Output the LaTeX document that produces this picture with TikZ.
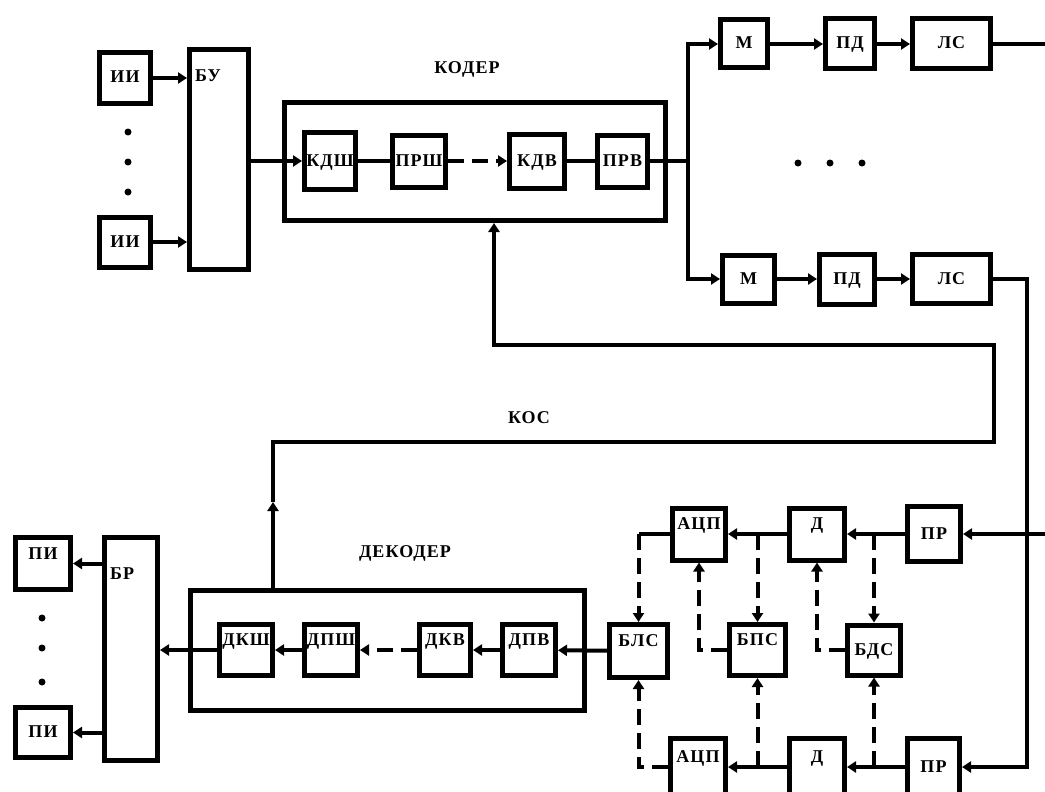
\documentclass[tikz,border=0pt]{standalone}
\usepackage{fontspec}
\setmainfont{Liberation Serif}[LetterSpace=6]
\usepackage{tikz}
\usetikzlibrary{arrows.meta, positioning, calc}
\tikzset{
  blk/.style={rectangle, draw=black, line width=5pt, inner sep=0pt,
    text height=12pt, text depth=2pt, font=\fontsize{18}{18}\selectfont\bfseries},
  hiblk/.style={blk, text depth=21pt},
  frame/.style={rectangle, draw=black, line width=5pt, inner sep=0pt},
  lbl/.style={inner sep=0pt, font=\fontsize{18}{18}\selectfont\bfseries},
  arrow/.style={-{Triangle[length=9pt,width=11pt]}, line width=4pt},
  line/.style={line width=4pt},
  dasharrow/.style={arrow, dash pattern=on 16pt off 8pt},
  dot/.style={circle, fill=black, inner sep=0pt, minimum size=7pt}
}

\begin{document}
\begin{tikzpicture}[x=1pt, y=-1pt]
  \useasboundingbox (0,0) rectangle (1045,792);

  % Sources and control unit
  \node[blk, minimum width=51pt, minimum height=51pt] (ii1) at (125,78) {ИИ};
  \node[blk, minimum width=51pt, minimum height=50pt] (ii2) at (125,242) {ИИ};
  \node[dot] (d11) at (128,132) {};
  \node[dot] (d12) at (128,162) {};
  \node[dot] (d13) at (128,192) {};
  \node[frame, minimum width=59pt, minimum height=220pt] (bu) at (219,159.5) {};
  \node[lbl, anchor=north west] (bulbl) at ([shift={(8,23)}]bu.north west) {БУ};
  \draw[arrow] (ii1) -- (bu.west |- ii1);
  \draw[arrow] (ii2) -- (bu.west |- ii2);

  % Coder
  \node[lbl] (coderlbl) at (467,69) {КОДЕР};
  \node[frame, minimum width=381pt, minimum height=118pt] (coder) at (475,161.5) {};
  \node[blk, minimum width=51pt, minimum height=57pt] (kdsh) at (330,161) {КДШ};
  \node[blk, minimum width=53pt, minimum height=52pt] (prsh) at (419,161) {ПРШ};
  \node[blk, minimum width=55pt, minimum height=54pt] (kdv) at (537,161) {КДВ};
  \node[blk, minimum width=50pt, minimum height=52pt] (prv) at (622.5,161) {ПРВ};
  \draw[arrow] (bu.east |- kdsh) -- (kdsh);
  \draw[line] (kdsh) -- (prsh);
  \draw[dasharrow] (prsh) -- (kdv);
  \draw[line] (kdv) -- (prv);

  % Channels
  \coordinate (sp) at (688,161);
  \node[blk, minimum width=47pt, minimum height=48pt] (m1) at (744,44) {М};
  \node[blk, minimum width=49pt, minimum height=50pt] (pd1) at (850,44) {ПД};
  \node[blk, minimum width=78pt, minimum height=50pt] (ls1) at (951.5,44) {ЛС};
  \node[blk, minimum width=52pt, minimum height=48pt] (m2) at (748.5,279) {М};
  \node[blk, minimum width=55pt, minimum height=50pt] (pd2) at (847,279) {ПД};
  \node[blk, minimum width=78pt, minimum height=49pt] (ls2) at (951.5,279) {ЛС};
  \node[dot] (d21) at (798,163) {};
  \node[dot] (d22) at (830,163) {};
  \node[dot] (d23) at (862,163) {};
  \draw[line] (prv) -- (sp);
  \draw[arrow] (sp) |- (m1);
  \draw[arrow] (sp) |- (m2);
  \draw[arrow] (m1) -- (pd1);
  \draw[arrow] (pd1) -- (ls1);
  \draw[arrow] (m2) -- (pd2);
  \draw[arrow] (pd2) -- (ls2);
  \coordinate (out1) at (1045,44);
  \draw[line] (ls1) -- (out1);

  % Feedback channel
  \coordinate (k1) at (273,502);
  \coordinate (k2) at (273,442);
  \coordinate (k3) at (994,442);
  \coordinate (k4) at (994,345);
  \coordinate (k5) at (494,345);
  \node[lbl] (koslbl) at (529,418) {КОС};

  % Receiver side
  \node[blk, minimum width=53pt, minimum height=55pt] (pr1) at (934,534) {ПР};
  \node[hiblk, minimum width=55pt, minimum height=52pt] (dd1) at (817,534) {Д};
  \node[hiblk, minimum width=53pt, minimum height=52pt] (adc1) at (699,534) {АЦП};
  \node[hiblk, minimum width=58pt, minimum height=53pt] (bls) at (638.5,651) {БЛС};
  \node[hiblk, minimum width=56pt, minimum height=51pt] (bps) at (757.5,650) {БПС};
  \node[blk, minimum width=53pt, minimum height=50pt] (bds) at (874,650) {БДС};
  \node[blk, minimum width=52pt, minimum height=57pt] (pr2) at (933.5,767) {ПР};
  \node[hiblk, minimum width=55pt, minimum height=57pt] (dd2) at (817,767) {Д};
  \node[hiblk, minimum width=55pt, minimum height=57pt] (adc2) at (698,767) {АЦП};
  \coordinate (in1) at (1045,534);
  \coordinate (rc) at (1027,767);
  \draw[arrow] (in1) -- (pr1);
  \draw[arrow] (ls2) -| (rc) -- (pr2);
  \draw[arrow] (pr1) -- (dd1);
  \draw[arrow] (dd1) -- (adc1);
  \draw[arrow] (pr2) -- (dd2);
  \draw[arrow] (dd2) -- (adc2);
  \draw[dasharrow] (bds |- dd1) -- (bds);
  \draw[dasharrow] (bps |- dd1) -- (bps);
  \draw[line] (adc1) -- (bls |- adc1);
  \draw[dasharrow] (bls |- adc1) -- (bls);
  \draw[dasharrow] (bps) -| (adc1);
  \draw[dasharrow] (bds) -| (dd1);
  \draw[dasharrow] (bds |- dd2) -- (bds);
  \draw[dasharrow] (bps |- dd2) -- (bps);
  \draw[dasharrow] (adc2) -| (bls);

  % Decoder
  \node[lbl] (declbl) at (405,553) {ДЕКОДЕР};
  \node[frame, minimum width=394pt, minimum height=120pt] (dec) at (387.5,650.5) {};
  \node[hiblk, minimum width=53pt, minimum height=51pt] (dksh) at (246,650) {ДКШ};
  \node[hiblk, minimum width=53pt, minimum height=51pt] (dpsh) at (331,650) {ДПШ};
  \node[hiblk, minimum width=51pt, minimum height=51pt] (dkv) at (445,650) {ДКВ};
  \node[hiblk, minimum width=53pt, minimum height=51pt] (dpv) at (529,650) {ДПВ};
  \draw[arrow] (bls) -- (dpv);
  \draw[arrow] (dpv) -- (dkv);
  \draw[dasharrow] (dkv) -- (dpsh);
  \draw[arrow] (dpsh) -- (dksh);
  \draw[arrow] (dec.north -| k1) -- (k1);
  \draw[arrow] (k1) -- (k2) -- (k3) -- (k4) -- (k5) -- (coder.south -| k5);

  % Receivers of information
  \node[frame, minimum width=53pt, minimum height=223pt] (br) at (131,649) {};
  \node[lbl, anchor=north west] (brlbl) at ([shift={(8,33)}]br.north west) {БР};
  \node[hiblk, minimum width=55pt, minimum height=52pt] (pi1) at (43,563.5) {ПИ};
  \node[blk, minimum width=55pt, minimum height=50pt] (pi2) at (43,732.5) {ПИ};
  \node[dot] (d31) at (42,618) {};
  \node[dot] (d32) at (42,648) {};
  \node[dot] (d33) at (42,682) {};
  \draw[arrow] (dksh) -- (br.east |- dksh);
  \draw[arrow] (br.west |- pi1) -- (pi1);
  \draw[arrow] (br.west |- pi2) -- (pi2);
\end{tikzpicture}
\end{document}
